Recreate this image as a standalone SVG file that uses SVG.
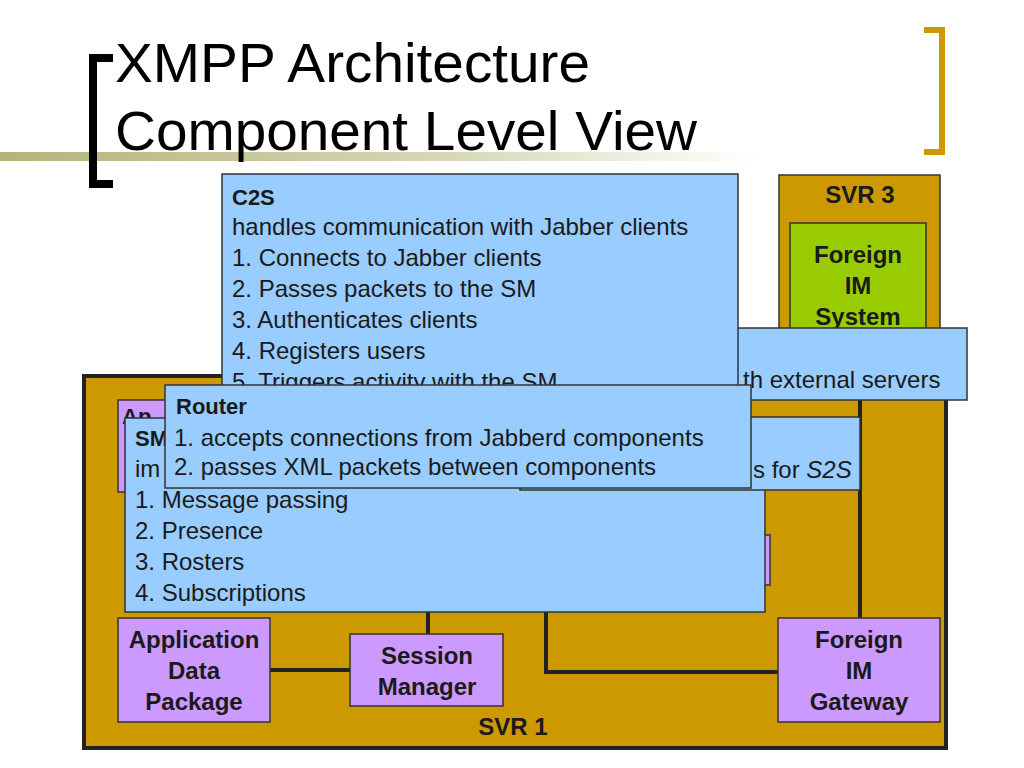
<svg xmlns="http://www.w3.org/2000/svg" width="1024" height="768" viewBox="0 0 1024 768">
<defs>
<linearGradient id="bar" x1="0" x2="1" y1="0" y2="0">
<stop offset="0" stop-color="#b3b37a"/><stop offset="0.6" stop-color="#d8d8b8"/><stop offset="1" stop-color="#ffffff"/>
</linearGradient>
</defs>
<style>
text{font-family:"Liberation Sans",Arial,sans-serif;fill:#1a1a1a}
.t{font-size:56px;fill:#000}
.b{font-weight:bold;font-size:24px;text-anchor:middle}
.c{font-size:24px}
.cb{font-size:22px;font-weight:bold}
.call{fill:#99ccff;stroke:#333;stroke-width:1.5}
.pur{fill:#cc99ff;stroke:#333;stroke-width:1.5}
.ln{stroke:#222;stroke-width:4;fill:none}
</style>
<rect width="1024" height="768" fill="#fff"/>
<rect x="0" y="152" width="760" height="9" fill="url(#bar)"/>
<path d="M113,58 H93 V184 H113" fill="none" stroke="#000" stroke-width="8"/>
<path d="M924,30 H942 V152 H924" fill="none" stroke="#cc9900" stroke-width="6"/>
<text class="t" x="115" y="82" textLength="475" lengthAdjust="spacingAndGlyphs">XMPP Architecture</text>
<text class="t" x="115" y="150" textLength="582" lengthAdjust="spacingAndGlyphs">Component Level View</text>

<g id="svr3"><rect x="779" y="175" width="161" height="220" fill="#cc9900" stroke="#333" stroke-width="1.5"/>
<text class="b" x="860" y="203">SVR 3</text></g>
<g id="foreign-im-system"><rect x="790" y="223" width="136" height="160" fill="#99cc00" stroke="#333" stroke-width="1.5"/>
<text class="b" x="858" y="263">Foreign</text><text class="b" x="858" y="294">IM</text><text class="b" x="858" y="325">System</text></g>

<g id="svr1"><rect x="84" y="376" width="862" height="372" fill="#cc9900" stroke="#222" stroke-width="4"/>
<text class="b" x="513" y="735">SVR 1</text></g>

<g id="connectors">
<path class="ln" d="M860,395 V618"/>
<path class="ln" d="M270,670 H350"/>
<path class="ln" d="M428,610 V634"/>
<path class="ln" d="M546,610 V672 H778"/>
</g>

<g id="app-box"><rect class="pur" x="118" y="400" width="90" height="92"/><text class="cb" x="122" y="424">Ap</text></g>
<g id="hidden-box"><rect class="pur" x="720" y="535" width="50" height="50"/></g>
<g id="application-data-package"><rect class="pur" x="118" y="618" width="152" height="104"/>
<text class="b" x="194" y="648">Application</text><text class="b" x="194" y="679">Data</text><text class="b" x="194" y="710">Package</text></g>
<g id="session-manager"><rect class="pur" x="350" y="634" width="153" height="72"/>
<text class="b" x="427" y="664">Session</text><text class="b" x="427" y="695">Manager</text></g>
<g id="foreign-im-gateway"><rect class="pur" x="778" y="618" width="162" height="104"/>
<text class="b" x="859" y="648">Foreign</text><text class="b" x="859" y="679">IM</text><text class="b" x="859" y="710">Gateway</text></g>

<g id="s2s-callout"><rect class="call" x="700" y="328" width="267" height="72"/>
<text class="c" x="743" y="388">th external servers</text></g>
<g id="c2s-callout"><rect class="call" x="222" y="174" width="516" height="226"/>
<text class="cb" x="232" y="205">C2S</text>
<text class="c" x="232" y="235">handles communication with Jabber clients</text>
<text class="c" x="232" y="266">1. Connects to Jabber clients</text>
<text class="c" x="232" y="297">2. Passes packets to the SM</text>
<text class="c" x="232" y="328">3. Authenticates clients</text>
<text class="c" x="232" y="359">4. Registers users</text>
<text class="c" x="232" y="390">5. Triggers activity with the SM</text></g>
<g id="sm-callout"><rect class="call" x="125" y="418" width="640" height="194"/>
<text class="cb" x="135" y="446">SM</text>
<text class="c" x="135" y="477">im</text>
<text class="c" x="135" y="508">1. Message passing</text>
<text class="c" x="135" y="539">2. Presence</text>
<text class="c" x="135" y="570">3. Rosters</text>
<text class="c" x="135" y="601">4. Subscriptions</text></g>
<g id="s2s-callout-2"><rect class="call" x="520" y="417" width="340" height="73"/>
<text class="c" x="753" y="478">s for <tspan font-style="italic">S2S</tspan></text></g>
<g id="router-callout"><rect class="call" x="165" y="385" width="586" height="103"/>
<text class="cb" x="176" y="414">Router</text>
<text class="c" x="174" y="446">1. accepts connections from Jabberd components</text>
<text class="c" x="174" y="475">2. passes XML packets between components</text></g>
</svg>
